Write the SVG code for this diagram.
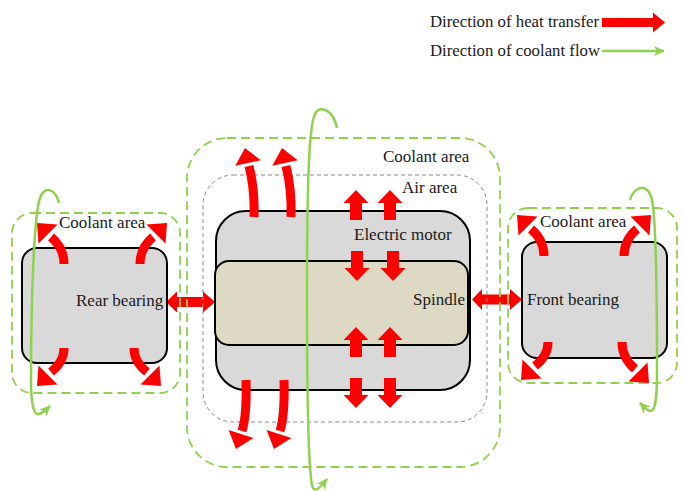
<svg xmlns="http://www.w3.org/2000/svg" width="683" height="491" viewBox="0 0 683 491">
  <defs>
    <style>
      text { font-family: "Liberation Serif", "Times New Roman", serif; font-size: 17px; fill: #1a1a1a; }
      .legend-text { font-size: 16.8px; }
      .zone { fill: none; stroke: #92d050; stroke-width: 1.8; stroke-dasharray: 9 5; }
      .air { fill: none; stroke: #8c8c8c; stroke-width: 1; stroke-dasharray: 4 3; }
      .part { fill: #d9d9d9; stroke: #000; stroke-width: 2; }
      .shaft { fill: #ddd9c4; stroke: #000; stroke-width: 2; }
      .heat { fill: none; stroke: #ff0000; stroke-width: 9; }
      .head { fill: #ff0000; }
      .flow { fill: none; stroke: #92d050; stroke-width: 2.5; marker-end: url(#flowTip); }
    </style>
    <marker id="flowTip" markerUnits="userSpaceOnUse" markerWidth="12" markerHeight="12" viewBox="0 0 12 12" refX="10" refY="6" orient="auto">
      <path d="M0,1 L11,6 L0,11 L3,6 Z" fill="#92d050"/>
    </marker>
    <!-- straight block arrow pointing up, tip at origin -->
    <polygon id="blockUp" points="0,0 12.5,13 6,13 6,30 -6,30 -6,13 -12.5,13"/>
  </defs>

  <!-- legend -->
  <g id="legend">
    <text class="legend-text" x="430" y="27">Direction of heat transfer</text>
    <polygon class="head" points="602,18 653,18 653,12.5 665,22.5 653,32.5 653,27 602,27"/>
    <text class="legend-text" x="430" y="56">Direction of coolant flow</text>
    <line x1="602" y1="51" x2="664" y2="51" stroke="#92d050" stroke-width="2.5" marker-end="url(#flowTip)"/>
  </g>

  <!-- conduction between bearings and spindle -->
  <g id="connectors">
    <polygon class="head" points="166,302 177,291.5 177,297 203,297 203,291.5 215,302 203,312.5 203,307 177,307 177,312.5"/>
    <polygon class="head" points="472,299.5 482,289 482,294.5 510,294.5 510,289 522,299.5 510,310 510,304.5 482,304.5 482,310"/>
  </g>

  <!-- rear bearing -->
  <g id="rear-bearing">
    <rect class="zone" x="12" y="213" width="168" height="180" rx="20"/>
    <rect class="part" x="22" y="248" width="145" height="115" rx="15"/>
    <text x="59" y="228">Coolant area</text>
    <text x="76" y="306">Rear bearing</text>
    <path class="heat" d="M64,264 Q64,248 51,237"/>
    <polygon class="head" points="37,223 57.5,224.5 38.5,243.5"/>
    <path class="heat" d="M140,264 Q140,248 153,237"/>
    <polygon class="head" points="167,223 146.5,224.5 165.5,243.5"/>
    <path class="heat" d="M64,348 Q64,362 51,372"/>
    <polygon class="head" points="37,386 57.5,384.5 38.5,365.5"/>
    <path class="heat" d="M134,348 Q134,362 147,372"/>
    <polygon class="head" points="161,386 159.5,365.5 140.5,384.5"/>
  </g>

  <!-- motor / spindle assembly -->
  <g id="motor-spindle">
    <rect class="zone" x="187" y="138" width="313" height="329" rx="40"/>
    <rect class="air" x="203" y="175" width="284" height="247" rx="30"/>
    <rect class="part" x="216" y="211" width="254" height="179" rx="30"/>
    <rect class="shaft" x="215" y="261" width="253" height="84" rx="14"/>
    <text x="383" y="162">Coolant area</text>
    <text x="402" y="193">Air area</text>
    <text x="354" y="240">Electric motor</text>
    <text x="413" y="305">Spindle</text>
    <!-- heat out of the motor housing -->
    <path class="heat" d="M254,217 Q255,190 249,166"/>
    <polygon class="head" points="245,148 260.7,160.2 235.3,165.8"/>
    <path class="heat" d="M291,217 Q292,190 286,166"/>
    <polygon class="head" points="282,148 297.7,160.2 272.3,165.8"/>
    <path class="heat" d="M246,380 Q247,415 242,431"/>
    <polygon class="head" points="236,449 253.4,437.9 228.6,430.1"/>
    <path class="heat" d="M284,380 Q285,415 280,431"/>
    <polygon class="head" points="274,449 291.4,437.9 266.6,430.1"/>
    <!-- heat through the air gap -->
    <use href="#blockUp" x="356" y="190" class="head"/>
    <use href="#blockUp" x="390" y="190" class="head"/>
    <use href="#blockUp" x="356" y="327" class="head"/>
    <use href="#blockUp" x="390" y="327" class="head"/>
    <use href="#blockUp" transform="translate(357,281) rotate(180)" class="head"/>
    <use href="#blockUp" transform="translate(393,281) rotate(180)" class="head"/>
    <use href="#blockUp" transform="translate(356,408) rotate(180)" class="head"/>
    <use href="#blockUp" transform="translate(390,408) rotate(180)" class="head"/>
  </g>

  <!-- front bearing -->
  <g id="front-bearing">
    <rect class="zone" x="508" y="208" width="169" height="175" rx="20"/>
    <rect class="part" x="522" y="242" width="145" height="116" rx="15"/>
    <text x="540" y="227">Coolant area</text>
    <text x="527" y="305">Front bearing</text>
    <path class="heat" d="M544,256 Q544,240 531,229"/>
    <polygon class="head" points="517,215 537.5,216.5 518.5,235.5"/>
    <path class="heat" d="M624,256 Q624,240 637,229"/>
    <polygon class="head" points="651,215 630.5,216.5 649.5,235.5"/>
    <path class="heat" d="M548,342 Q548,356 535,366"/>
    <polygon class="head" points="521,380 541.5,378.5 522.5,359.5"/>
    <path class="heat" d="M622,342 Q622,358 635,369"/>
    <polygon class="head" points="649,383 647.5,362.5 628.5,381.5"/>
  </g>

  <!-- coolant circulation -->
  <g id="coolant-flow">
    <path class="flow" d="M59,203 C56,190 45,184 40,198 C34,215 31,300 31,380 C31,400 33,416 39,414 C43,413 46,410 50,406"/>
    <path class="flow" d="M337,128 C334,112 321,103 315,114 C309,126 307,180 307,300 C307,420 309,470 312,485 C314,494 320,488 327,479"/>
    <path class="flow" d="M630,200 C634,186 648,182 652,200 C656,220 657,300 657,370 C657,395 656,410 651,411 C647,411 644,407 640,403"/>
  </g>
</svg>
